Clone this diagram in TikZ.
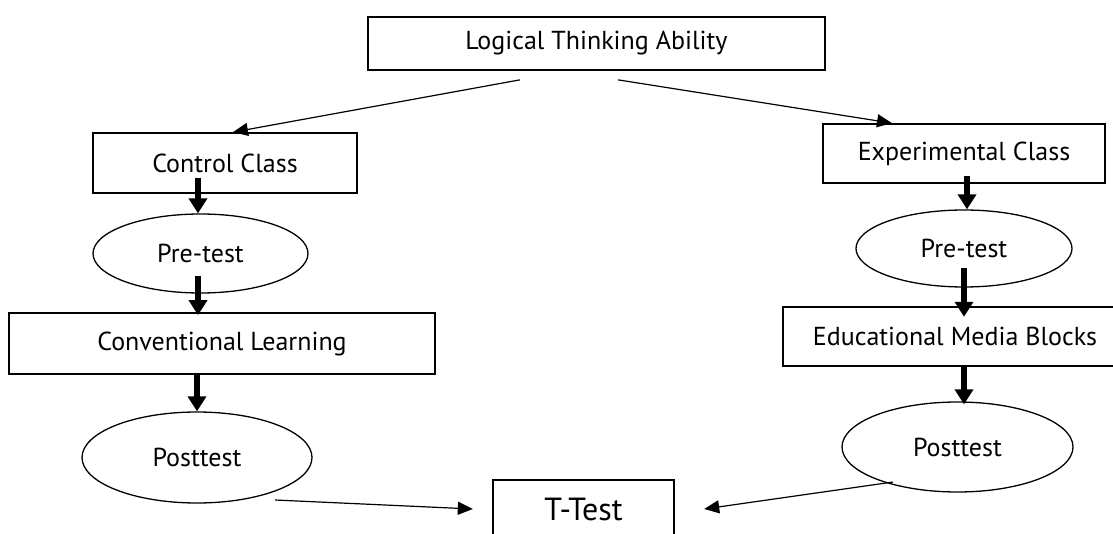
\documentclass[tikz,border=0pt]{standalone}
\usepackage{fontspec}
\setmainfont{PT Sans}
\usetikzlibrary{arrows.meta,calc,shapes.geometric}
\begin{document}
\begin{tikzpicture}[x=1pt,y=-1pt,
  txt/.style={font=\fontsize{26}{30}\selectfont,inner sep=0pt},
  rbox/.style={txt,draw,line width=1.7pt,rectangle},
  obox/.style={txt,rectangle},
  ell/.style={txt,draw,line width=1.3pt,ellipse},
  boxline/.style={line width=1.7pt},
  thinarr/.style={line width=1.2pt,-{Triangle[length=15pt,width=13pt]}},
  thickarr/.style={line width=5.5pt,-{Triangle[length=15pt,width=18pt]}}]
\useasboundingbox (0,0) rectangle (1113,534);
\fill[white] (0,0) rectangle (1113,534);
% nodes
\node[rbox,minimum width=457pt,minimum height=53pt] (lta) at (596.5,43.5) {Logical Thinking Ability};
\node[rbox,minimum width=264pt,minimum height=60pt] (ctrl) at (225,163) {Control Class};
\node[rbox,minimum width=282pt,minimum height=59pt] (exp) at (964,153.5) {Experimental Class};
\node[ell,minimum width=215pt,minimum height=79pt] (preL) at (200.5,253.5) {Pre-test};
\node[ell,minimum width=216pt,minimum height=77pt] (preR) at (964,248.5) {Pre-test};
\node[rbox,minimum width=426pt,minimum height=61pt] (conv) at (222,343.5) {Conventional Learning};
\node[obox,minimum width=344pt,minimum height=59pt] (emb) at (955,336.5) {Educational Media Blocks};
\draw[boxline] (emb.north east) -- (emb.north west) -- (emb.south west) -- (emb.south east);
\node[ell,minimum width=230pt,minimum height=91pt] (postL) at (197,457.5) {Posttest};
\node[ell,minimum width=231pt,minimum height=90pt] (postR) at (957.5,447) {Posttest};
\node[obox,font=\fontsize{32}{36}\selectfont,minimum width=181pt,minimum height=58pt] (tt) at (583.5,509) {T-Test};
\draw[boxline] (tt.south west) -- (tt.north west) -- (tt.north east) -- (tt.south east);
% thin arrows from top
\draw[thinarr] ($(lta.south)+(-76.5,9)$) -- ($(ctrl.north)+(8,0)$);
\draw[thinarr] ($(lta.south)+(21.5,9)$) -- ($(exp.north)+(-72,0)$);
% thick arrows
\draw[thickarr] ($(ctrl.south)+(-27,-16)$) -- ($(preL.north)+(-2.5,0)$);
\draw[thickarr] ($(preL.south)+(-2.5,-18)$) -- ($(conv.north)+(-24,3)$);
\draw[thickarr] ($(conv.south)+(-25,0)$) -- ($(postL.north)+(0,0)$);
\draw[thickarr] ($(exp.south)+(3,-8)$) -- ($(preR.north)+(3,0)$);
\draw[thickarr] ($(preR.south)+(0,-20)$) -- ($(emb.north)+(9,10)$);
\draw[thickarr] ($(emb.south)+(9,0)$) -- ($(postR.north)+(6.5,3)$);
% thin arrows to T-Test
\draw[thinarr] ($(postL.center)+(78,42.5)$) -- ($(tt.west)+(-20,0)$);
\draw[thinarr] ($(postR.center)+(-64.5,35)$) -- ($(tt.east)+(30,0)$);
\end{tikzpicture}
\end{document}
